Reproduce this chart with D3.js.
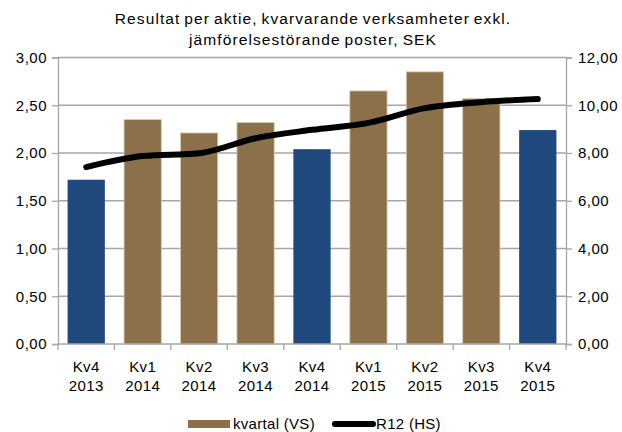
<!DOCTYPE html>
<html>
<head>
<meta charset="utf-8">
<script src="https://cdn.jsdelivr.net/npm/d3@7"></script>
<style>
  body { margin: 0; background: #fff; }
  text { font-family: "Liberation Sans", Arial, sans-serif; fill: #000; }
</style>
</head>
<body>
<svg id="chart" width="622" height="432"></svg>
<script>
"use strict";

const quarters = ["Kv4", "Kv1", "Kv2", "Kv3", "Kv4", "Kv1", "Kv2", "Kv3", "Kv4"];
const years = ["2013", "2014", "2014", "2014", "2014", "2015", "2015", "2015", "2015"];
const kvartal = [1.72, 2.35, 2.21, 2.32, 2.04, 2.65, 2.85, 2.57, 2.24];
const r12 = [7.41, 7.87, 7.99, 8.62, 8.97, 9.26, 9.88, 10.13, 10.26];
const leftTicks = [0, 0.5, 1, 1.5, 2, 2.5, 3];
const rightTicks = [0, 2, 4, 6, 8, 10, 12];
const titleLines = ["Resultat per aktie, kvarvarande verksamheter exkl.", "jämförelsestörande poster, SEK"];
const legendLabels = ["kvartal (VS)", "R12 (HS)"];

const svg = d3.select("#chart");
const m = { left: 58, right: 566, top: 57.5, bottom: 344 };
const idx = d3.range(quarters.length);

const x = d3.scaleBand().domain(idx).range([m.left, m.right]).paddingInner(0.34).paddingOuter(0.17);
const yL = d3.scaleLinear().domain([0, 3]).range([m.bottom, m.top]);
const yR = d3.scaleLinear().domain([0, 12]).range([m.bottom, m.top]);
const fmt = (v) => d3.format(".2f")(v).replace(".", ",");

// gridlines
svg.append("g").selectAll("line").data(leftTicks.slice(1)).join("line")
	.attr("x1", m.left).attr("x2", m.right)
	.attr("y1", (d) => yL(d)).attr("y2", (d) => yL(d))
	.attr("stroke", "#a6a6a6").attr("stroke-width", 1.3);

// bars - Kv4 quarters in blue
svg.append("g").selectAll("rect").data(idx).join("rect")
	.attr("x", (i) => x(i)).attr("width", x.bandwidth())
	.attr("y", (i) => yL(kvartal[i])).attr("height", (i) => yL(0) - yL(kvartal[i]))
	.attr("fill", (i) => quarters[i] === "Kv4" ? "#1f497d" : "#8b704a")
	.attr("stroke", (i) => quarters[i] === "Kv4" ? "none" : "#d9ccb5")
	.attr("stroke-width", 0.8);

// axes
const axL = svg.append("g").attr("transform", `translate(${m.left},0)`)
	.call(d3.axisLeft(yL).tickValues(leftTicks).tickFormat(fmt).tickSize(6).tickPadding(5));
const axR = svg.append("g").attr("transform", `translate(${m.right},0)`)
	.call(d3.axisRight(yR).tickValues(rightTicks).tickFormat(fmt).tickSize(6).tickPadding(6));
[axL, axR].forEach((ax) => {
	ax.select(".domain").attr("stroke", "#a6a6a6").attr("stroke-width", 1.3);
	ax.selectAll(".tick line").attr("stroke", "#a6a6a6").attr("stroke-width", 1.3);
	ax.selectAll("text").attr("font-size", 15).attr("fill", "#000")
		.attr("letter-spacing", 0.5)
		.attr("font-family", "'Liberation Sans', Arial, sans-serif");
});

// x axis with boundary ticks
const bx = svg.append("g");
bx.append("line").attr("x1", m.left).attr("x2", m.right)
	.attr("y1", m.bottom).attr("y2", m.bottom)
	.attr("stroke", "#a6a6a6").attr("stroke-width", 1.3);
const step = x.step();
bx.selectAll("line.tk").data(d3.range(quarters.length + 1)).join("line")
	.attr("class", "tk")
	.attr("x1", (i) => m.left + i * step).attr("x2", (i) => m.left + i * step)
	.attr("y1", m.bottom).attr("y2", m.bottom + 6)
	.attr("stroke", "#a6a6a6").attr("stroke-width", 1.3);
const lab = bx.selectAll("text").data(idx).join("text")
	.attr("text-anchor", "middle").attr("font-size", 15).attr("letter-spacing", 0.4)
	.attr("x", (i) => x(i) + x.bandwidth() / 2);
lab.append("tspan").attr("x", (i) => x(i) + x.bandwidth() / 2).attr("y", 372).text((i) => quarters[i]);
lab.append("tspan").attr("x", (i) => x(i) + x.bandwidth() / 2).attr("y", 391).text((i) => years[i]);

// R12 line
const line = d3.line()
	.x((d, i) => x(i) + x.bandwidth() / 2)
	.y((d) => yR(d))
	.curve(d3.curveMonotoneX);
svg.append("path").datum(r12)
	.attr("d", line).attr("fill", "none")
	.attr("stroke", "#000").attr("stroke-width", 6)
	.attr("stroke-linecap", "round").attr("stroke-linejoin", "round");

// title
svg.append("g").selectAll("text").data(titleLines).join("text")
	.attr("x", 313).attr("y", (d, i) => 24 + i * 21)
	.attr("text-anchor", "middle").attr("font-size", 15.5)
	.attr("letter-spacing", 1.1).attr("word-spacing", -1.5)
	.text((d) => d);

// legend
const lg = svg.append("g");
lg.append("rect").attr("x", 188).attr("y", 420).attr("width", 42).attr("height", 8).attr("fill", "#8b704a");
lg.append("text").attr("x", 233).attr("y", 429).attr("font-size", 15).attr("letter-spacing", 0.3).text(legendLabels[0]);
lg.append("line").attr("x1", 335).attr("x2", 373).attr("y1", 424).attr("y2", 424)
	.attr("stroke", "#000").attr("stroke-width", 6).attr("stroke-linecap", "round");
lg.append("text").attr("x", 376).attr("y", 429).attr("font-size", 15).attr("letter-spacing", 0.3).text(legendLabels[1]);
</script>
</body>
</html>
